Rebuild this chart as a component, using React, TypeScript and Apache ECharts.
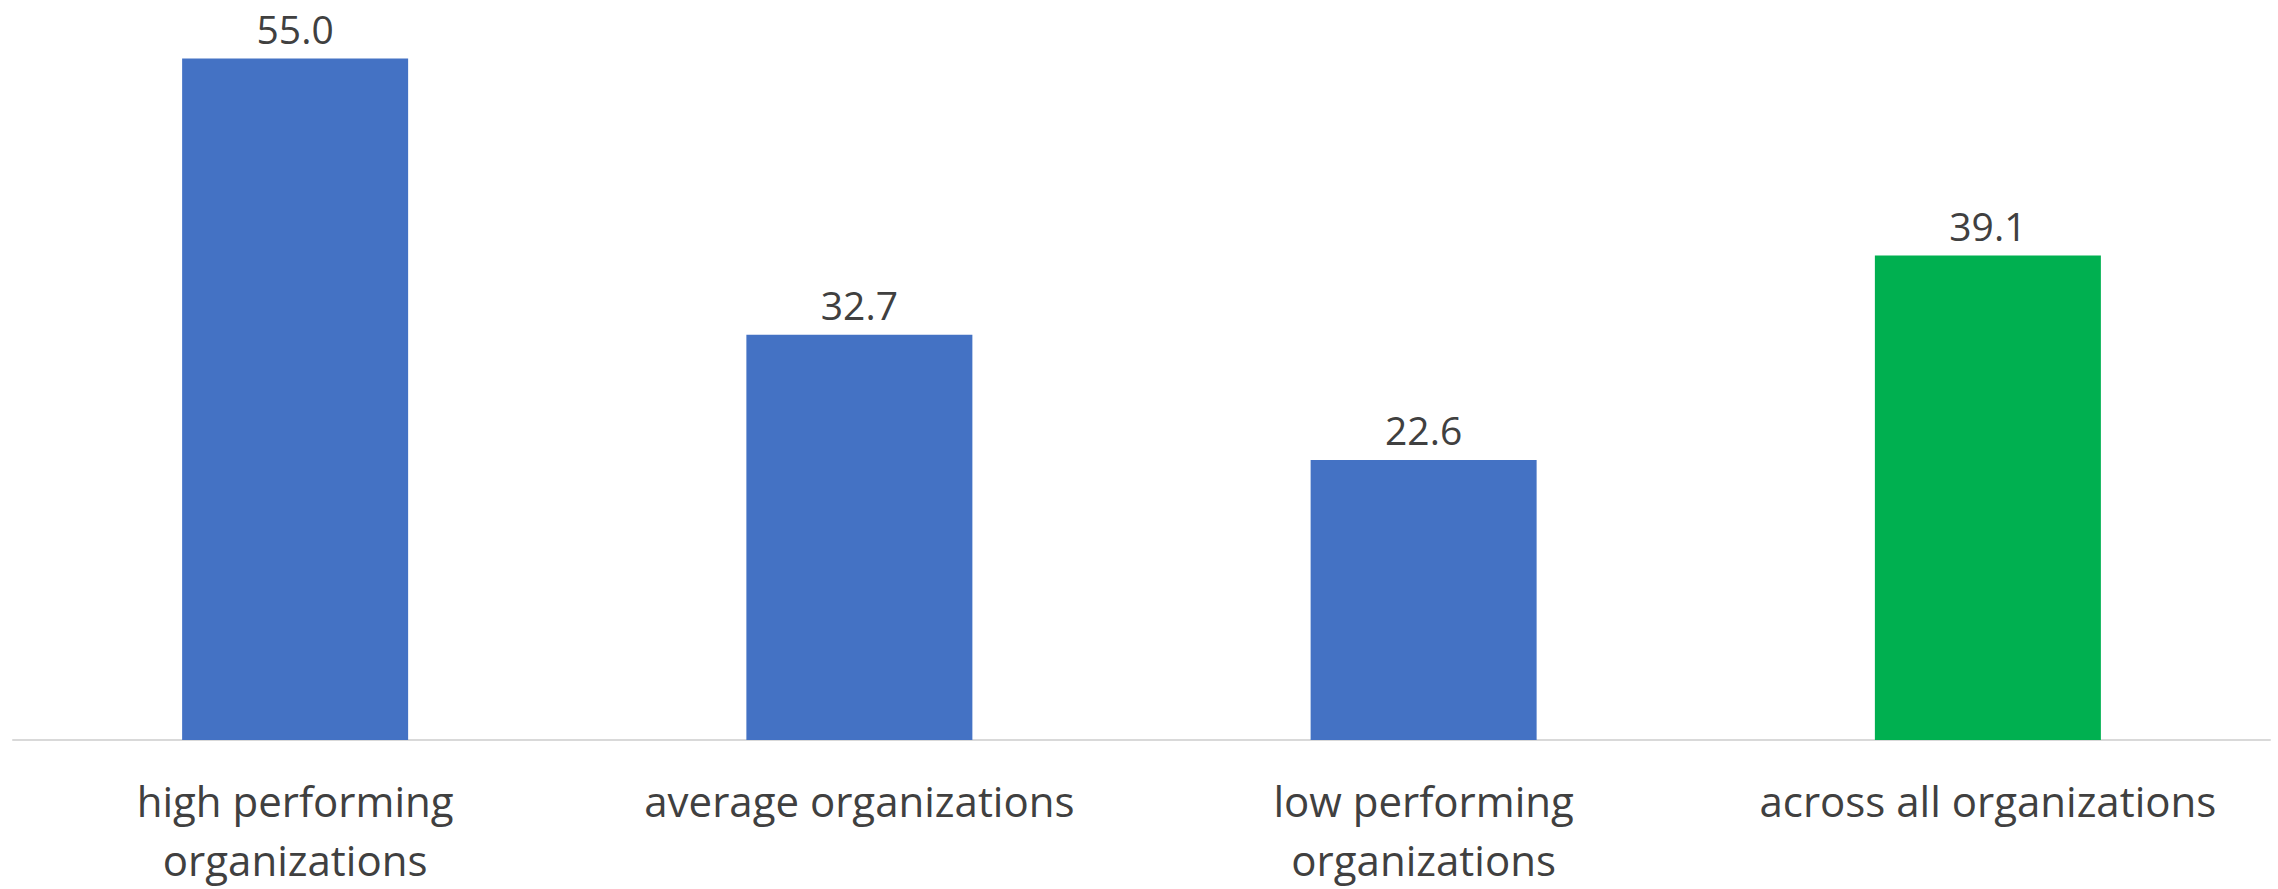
import React, { useEffect, useRef } from "react";
import * as echarts from "echarts";

const categories = [
  "high performing\norganizations",
  "average organizations",
  "low performing\norganizations",
  "across all organizations",
];
const values = [55.0, 32.7, 22.6, 39.1];
const barColors = ["#4472C4", "#4472C4", "#4472C4", "#00B050"];

const FONT = "'Open Sans', Lato, sans-serif";
const TEXT_COLOR = "#404040";

export default function App() {
  const ref = useRef<HTMLDivElement>(null);

  useEffect(() => {
    if (!ref.current) return;
    const chart = echarts.init(ref.current, undefined, { renderer: "svg" });
    chart.setOption({
      animation: false,
      backgroundColor: "#ffffff",
      grid: { left: 13, right: 8, top: 9, bottom: 146, containLabel: false },
      xAxis: {
        type: "category",
        data: categories,
        axisLine: { show: true, lineStyle: { color: "#D9D9D9", width: 2 } },
        axisTick: { show: false },
        axisLabel: {
          interval: 0,
          margin: 31,
          color: TEXT_COLOR,
          fontFamily: FONT,
          fontSize: 42,
          lineHeight: 59,
          verticalAlign: "top",
        },
      },
      yAxis: {
        type: "value",
        min: 0,
        max: 59,
        show: false,
        splitLine: { show: false },
      },
      series: [
        {
          type: "bar",
          barWidth: 226,
          data: values.map((v, i) => ({ value: v, itemStyle: { color: barColors[i] } })),
          label: {
            show: true,
            position: "top",
            distance: 10,
            color: TEXT_COLOR,
            fontFamily: FONT,
            fontSize: 39,
            lineHeight: 40,
            formatter: (p: any) => Number(p.value).toFixed(1),
          },
        },
      ],
    });
    return () => chart.dispose();
  }, []);

  return (
    <div
      ref={ref}
      style={{ position: "fixed", left: 0, top: 0, width: 2278, height: 889, background: "#fff" }}
    />
  );
}
